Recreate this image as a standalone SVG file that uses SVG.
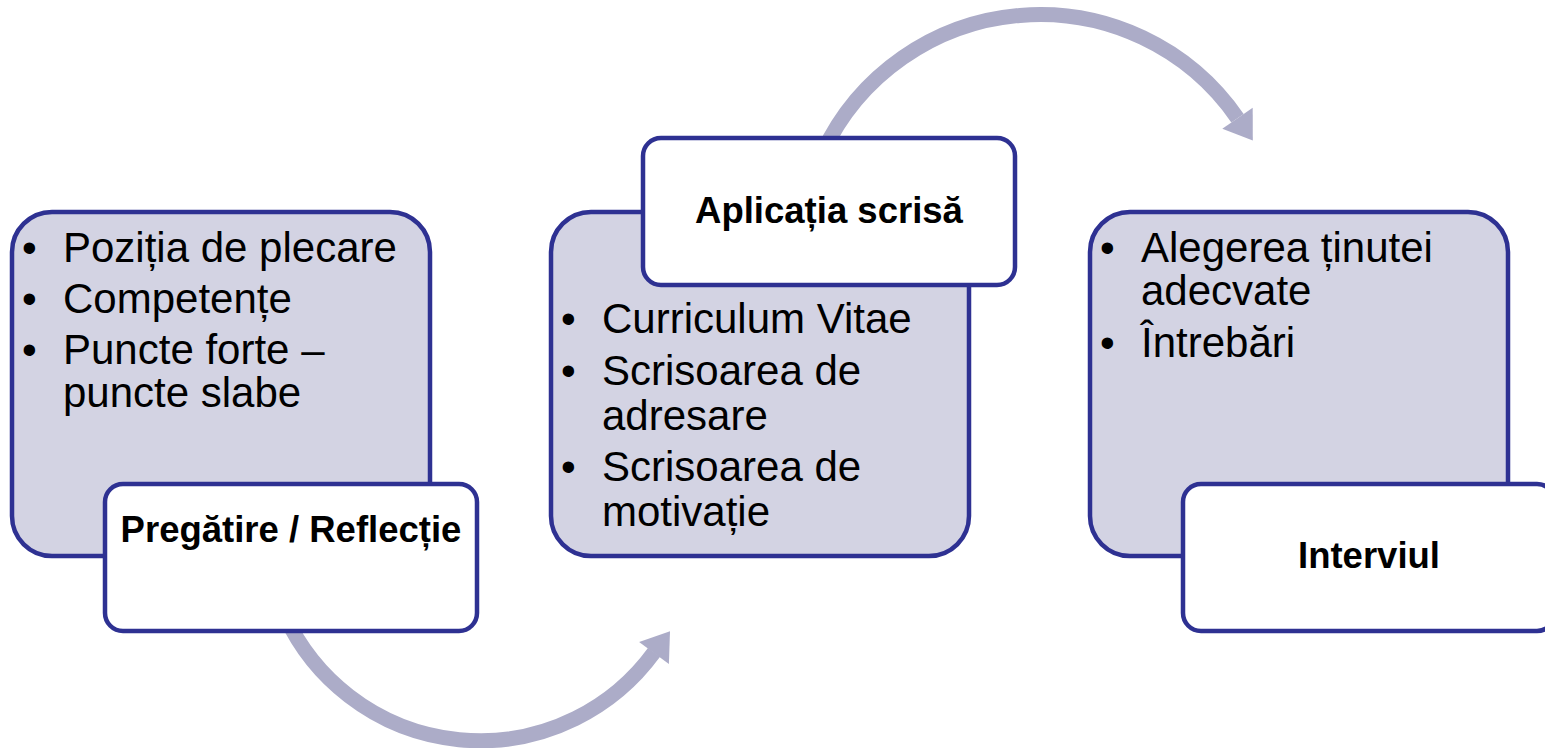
<svg xmlns="http://www.w3.org/2000/svg" width="1545" height="748" viewBox="0 0 1545 748">
<style>
.bg{fill:#D3D3E3;stroke:#2E3192;stroke-width:4.5}
.hd{fill:#FFFFFF;stroke:#2E3192;stroke-width:4.5}
.arc{fill:none;stroke:#ACACC8;stroke-width:15}
.ah{fill:#ACACC8}
.body{font-family:"Liberation Sans",Arial,sans-serif;font-size:42px;fill:#000}
.ttl{font-family:"Liberation Sans",Arial,sans-serif;font-size:36.5px;font-weight:bold;fill:#000;text-anchor:middle}
</style>
<rect width="1545" height="748" fill="#FFFFFF"/>
<g id="connectors">
<path class="arc" d="M 285.1 615.9 A 215 215 0 0 0 654 652.4"/>
<polygon class="ah" points="670,631.2 668.9,664 639.1,642"/>
<path class="arc" d="M 822.5 153.1 A 240 240 0 0 1 1237.5 118.2"/>
<polygon class="ah" points="1252.8,140.4 1252.7,107.7 1222.3,128.7"/>
</g>
<g id="node1">
<rect class="bg" x="12" y="212" width="418" height="344" rx="40"/>
<g class="body">
<text x="22" y="262">•</text><text x="63" y="262">Poziția de plecare</text>
<text x="22" y="313">•</text><text x="63" y="313">Competențe</text>
<text x="22" y="364">•</text><text x="63" y="364">Puncte forte –</text>
<text x="63" y="407">puncte slabe</text>
</g>
</g>
<g id="node1-title">
<rect class="hd" x="105" y="484" width="372" height="147" rx="18"/>
<text class="ttl" x="291" y="542">Pregătire / Reflecție</text>
</g>
<g id="node2">
<rect class="bg" x="551" y="212" width="418" height="344" rx="40"/>
<g class="body">
<text x="561" y="333">•</text><text x="602" y="333">Curriculum Vitae</text>
<text x="561" y="385">•</text><text x="602" y="385">Scrisoarea de</text>
<text x="602" y="430">adresare</text>
<text x="561" y="481">•</text><text x="602" y="481">Scrisoarea de</text>
<text x="602" y="526">motivație</text>
</g>
</g>
<g id="node2-title">
<rect class="hd" x="643" y="138" width="372" height="147" rx="18"/>
<text class="ttl" x="829" y="223">Aplicația scrisă</text>
</g>
<g id="node3">
<rect class="bg" x="1090" y="212" width="418" height="344" rx="40"/>
<g class="body">
<text x="1100" y="262">•</text><text x="1141" y="262">Alegerea ținutei</text>
<text x="1141" y="305">adecvate</text>
<text x="1100" y="357">•</text><text x="1141" y="357">Întrebări</text>
</g>
</g>
<g id="node3-title">
<rect class="hd" x="1183" y="484" width="372" height="147" rx="18"/>
<text class="ttl" x="1369" y="568">Interviul</text>
</g>
</svg>
